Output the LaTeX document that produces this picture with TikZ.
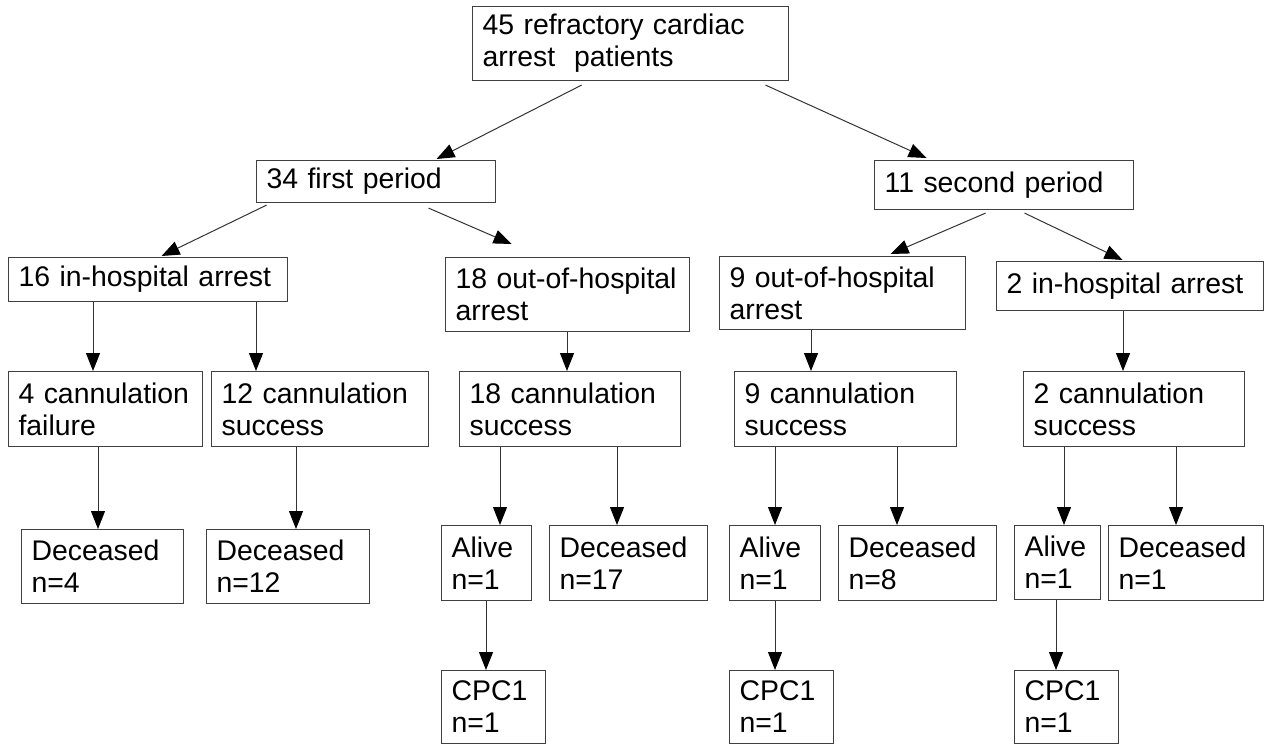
\documentclass[tikz,border=0pt]{standalone}
\usepackage{fontspec}
\setmainfont{Liberation Sans}
\usetikzlibrary{arrows.meta}
\tikzset{main base/.style={draw=black!75,line width=1.1pt}, }
\tikzset{main node/.style={rectangle,main base,anchor=north west,align=left,
    inner xsep=10pt,inner ysep=0pt,font=\fontsize{28.4}{32}\selectfont}, }
\tikzset{linea/.style={-{Triangle[length=18pt,width=14pt,color=black]},draw=black!80,line width=1pt}}

\begin{document}
\begin{tikzpicture}[x=1pt,y=-1pt]
  \useasboundingbox (0,0) rectangle (1265,744);
    \node[main node,text width=296pt,minimum height=74pt] (1) at (472,6) {45 refractory cardiac\\arrest\ \ patients};
    \node[main node,text width=219pt,minimum height=42pt] (2) at (256,160) {34 first period};
    \node[main node,text width=239pt,minimum height=49pt] (3) at (874,160) {11 second period};
    \node[main node,text width=259pt,minimum height=44pt] (4) at (8,257) {16 in-hospital arrest};
    \node[main node,text width=224pt,minimum height=74pt] (5) at (445,257) {18 out-of-hospital\\arrest};
    \node[main node,text width=226pt,minimum height=73pt] (6) at (719,256) {9 out-of-hospital\\arrest};
    \node[main node,text width=247pt,minimum height=49pt] (7) at (996,261) {2 in-hospital arrest};
    \node[main node,text width=174pt,minimum height=75pt] (8) at (8,371) {4 cannulation\\failure};
    \node[main node,text width=197pt,minimum height=75pt] (9) at (211,371) {12 cannulation\\success};
    \node[main node,text width=201pt,minimum height=75pt] (10) at (459,371) {18 cannulation\\success};
    \node[main node,text width=202pt,minimum height=75pt] (11) at (734,371) {9 cannulation\\success};
    \node[main node,text width=201pt,minimum height=75pt] (12) at (1023,371) {2 cannulation\\success};
    \node[main node,text width=142pt,minimum height=74pt] (13) at (21,529) {Deceased\\n=4};
    \node[main node,text width=143pt,minimum height=74pt] (14) at (206,529) {Deceased\\n=12};
    \node[main node,text width=70pt,minimum height=75pt] (15) at (441,525) {Alive\\n=1};
    \node[main node,text width=138pt,minimum height=75pt] (16) at (549,525) {Deceased\\n=17};
    \node[main node,text width=71pt,minimum height=75pt] (17) at (729,525) {Alive\\n=1};
    \node[main node,text width=138pt,minimum height=75pt] (18) at (838,525) {Deceased\\n=8};
    \node[main node,text width=66pt,minimum height=74pt] (19) at (1014,525) {Alive\\n=1};
    \node[main node,text width=135pt,minimum height=75pt] (20) at (1108,525) {Deceased\\n=1};
    \node[main node,text width=84pt,minimum height=73pt] (21) at (441,670) {CPC1\\n=1};
    \node[main node,text width=84pt,minimum height=73pt] (22) at (729,670) {CPC1\\n=1};
    \node[main node,text width=84pt,minimum height=73pt] (23) at (1014,670) {CPC1\\n=1};
    %
    \foreach \a/\b/\sx/\sy/\tx/\ty in {1/2/-49/-4/60.5/1,1/3/135/-4/-77.5/2,2/4/-109.5/-2/13.5/1,
      2/5/52.5/-5/-56/13,3/6/-18.5/-3/48/2,3/7/20.5/-3/-7.5/1}
      \draw[linea] ([xshift=\sx pt,yshift=\sy pt]\a.south) -- ([xshift=\tx pt,yshift=\ty pt]\b.north);
    \foreach \a/\b/\x in {4/8/93,4/9/256,5/10/567,6/11/811,7/12/1123,8/13/98,9/14/296,10/15/500,
      10/16/617,11/17/775,11/18/897,12/19/1064,12/20/1176,15/21/486,17/22/775,19/23/1056}
      \draw[linea] (\x,0 |- \a.south) -- (\x,0 |- \b.north);
\end{tikzpicture}
\end{document}
